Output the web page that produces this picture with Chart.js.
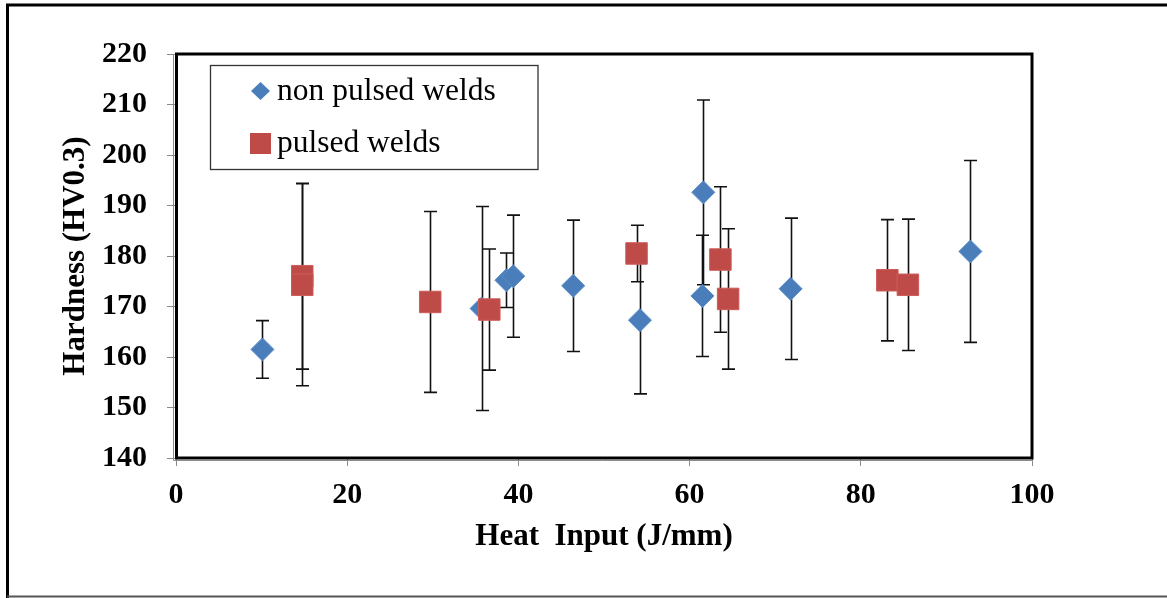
<!DOCTYPE html>
<html>
<head>
<meta charset="utf-8">
<script src="https://cdn.jsdelivr.net/npm/chart.js@4.4.0/dist/chart.umd.min.js"></script>
<style>
  html, body { margin: 0; padding: 0; background: #fff; }
  #wrap { width: 1167px; height: 598px; position: relative; }
</style>
</head>
<body>
<div id="wrap"><canvas id="chart-hardness"></canvas></div>
<script>
// values
const nonPulsedHeat = [10.1, 35.7, 38.6, 39.4, 46.4, 54.2, 61.5, 61.6, 71.8, 92.8];
const nonPulsedHard = [161.5, 169.6, 175.2, 176.0, 174.1, 167.3, 172.1, 192.6, 173.5, 180.9];
const nonPulsedErr  = [5.7, 20.2, 5.4, 12.1, 13.0, 14.6, 12.0, 18.3, 14.0, 18.0];

const pulsedHeat = [14.75, 14.75, 29.7, 36.6, 53.8, 63.6, 64.5, 83.1, 85.5];
const pulsedHard = [176.0, 174.3, 170.9, 169.4, 180.5, 179.3, 171.5, 175.2, 174.3];
const pulsedErr  = [18.4, 20.0, 17.9, 12.0, 5.6, 14.4, 13.9, 12.0, 13.0];

const xTicks = [0, 20, 40, 60, 80, 100];
const yTicks = [140, 150, 160, 170, 180, 190, 200, 210, 220];

const FONT = '"Liberation Serif", "Times New Roman", serif';
const BLUE = '#4A7EBB';
const RED = '#BE4B48';

const toPoints = (xs, ys) => xs.map((x, i) => ({ x: x, y: ys[i] }));

const errorBars = {
  id: 'errorBars',
  beforeDatasetsDraw(chart) {
    const { ctx, scales: { x, y } } = chart;
    ctx.save();
    ctx.strokeStyle = '#111';
    ctx.lineWidth = 1.6;
    chart.data.datasets.forEach(ds => {
      ds.data.forEach((p, j) => {
        const e = ds.errors[j];
        const px = Math.round(x.getPixelForValue(p.x)) + 0.5;
        const top = y.getPixelForValue(p.y + e);
        const bot = y.getPixelForValue(p.y - e);
        ctx.beginPath();
        ctx.moveTo(px, top); ctx.lineTo(px, bot);
        ctx.moveTo(px - 6.5, top); ctx.lineTo(px + 6.5, top);
        ctx.moveTo(px - 6.5, bot); ctx.lineTo(px + 6.5, bot);
        ctx.stroke();
      });
    });
    ctx.restore();
  }
};

const frameAndLegend = {
  id: 'frameAndLegend',
  beforeDraw(chart) {
    const { ctx, chartArea: a } = chart;
    ctx.save();
    // outer frame
    ctx.strokeStyle = '#000';
    ctx.lineWidth = 3;
    ctx.beginPath();
    ctx.moveTo(1167, 5); ctx.lineTo(7.5, 5); ctx.lineTo(7.5, 598);
    ctx.stroke();
    ctx.strokeStyle = '#555';
    ctx.lineWidth = 2;
    ctx.beginPath();
    ctx.moveTo(7, 596.5); ctx.lineTo(1167, 596.5);
    ctx.stroke();
    // grey axis lines
    ctx.strokeStyle = '#8c8c8c';
    ctx.lineWidth = 1;
    ctx.beginPath();
    ctx.moveTo(a.left - 2.5, a.top); ctx.lineTo(a.left - 2.5, a.bottom + 2.5);
    ctx.lineTo(a.right, a.bottom + 2.5);
    ctx.stroke();
    ctx.restore();
  },
  afterDraw(chart) {
    const { ctx, chartArea: a } = chart;
    ctx.save();
    // plot border
    ctx.strokeStyle = '#000';
    ctx.lineWidth = 3;
    ctx.strokeRect(a.left + 0.5, a.top, a.right - a.left - 0.5, a.bottom - a.top);
    // legend box
    ctx.strokeStyle = '#333';
    ctx.lineWidth = 1.3;
    ctx.fillStyle = '#fff';
    ctx.fillRect(210, 65.5, 328, 104);
    ctx.strokeRect(210.5, 65.5, 327.5, 104);
    const ds = chart.data.datasets;
    ctx.font = '31.5px ' + FONT;
    ctx.textBaseline = 'alphabetic';
    ctx.textAlign = 'left';
    // diamond marker
    ctx.fillStyle = BLUE;
    ctx.beginPath();
    ctx.moveTo(251, 91); ctx.lineTo(260.5, 82); ctx.lineTo(270, 91); ctx.lineTo(260.5, 100);
    ctx.closePath();
    ctx.fill();
    ctx.fillStyle = '#000';
    ctx.fillText(ds[0].label, 277, 100);
    // square marker
    ctx.fillStyle = RED;
    ctx.fillRect(250, 133, 21, 21);
    ctx.fillStyle = '#000';
    ctx.fillText(ds[1].label, 277, 152);
    ctx.restore();
  }
};

new Chart(document.getElementById('chart-hardness'), {
  type: 'scatter',
  data: {
    datasets: [
      {
        label: 'non pulsed welds',
        data: toPoints(nonPulsedHeat, nonPulsedHard),
        errors: nonPulsedErr,
        pointStyle: 'rectRot',
        pointRadius: 11.5,
        pointHoverRadius: 11.5,
        backgroundColor: BLUE,
        borderColor: '#5b8cc8',
        borderWidth: 1,
        order: 2,
      },
      {
        label: 'pulsed welds',
        data: toPoints(pulsedHeat, pulsedHard),
        errors: pulsedErr,
        pointStyle: 'rect',
        pointRadius: 15.2,
        pointHoverRadius: 15.2,
        backgroundColor: RED,
        borderColor: '#cc5c59',
        borderWidth: 1,
        order: 1,
      },
    ],
  },
  options: {
    responsive: true,
    maintainAspectRatio: false,
    animation: false,
    layout: { padding: { left: 0, right: 135, top: 54, bottom: 0 } },
    plugins: {
      legend: { display: false },
      tooltip: { enabled: false },
    },
    scales: {
      x: {
        type: 'linear',
        min: 0,
        max: 100,
        afterBuildTicks: s => { s.ticks = xTicks.map(v => ({ value: v })); },
        afterFit: s => {
          s.height = 140;
          s.paddingLeft = 0; s.paddingRight = 0; s.paddingTop = 0; s.paddingBottom = 0;
        },
        grid: { drawOnChartArea: false, color: '#8c8c8c', tickLength: 8 },
        border: { display: false },
        ticks: {
          color: '#000',
          padding: 11,
          font: { family: FONT, size: 30, weight: 'bold' },
        },
        title: {
          display: true,
          text: 'Heat  Input (J/mm)',
          color: '#000',
          font: { family: FONT, size: 31, weight: 'bold' },
          padding: { top: 0, bottom: 42 },
        },
      },
      y: {
        type: 'linear',
        min: 140,
        max: 220,
        afterBuildTicks: s => { s.ticks = yTicks.map(v => ({ value: v })); },
        afterFit: s => {
          s.width = 176;
          s.paddingLeft = 0; s.paddingRight = 0; s.paddingTop = 0; s.paddingBottom = 0;
        },
        grid: { drawOnChartArea: false, color: '#8c8c8c', tickLength: 9 },
        border: { display: false },
        ticks: {
          color: '#000',
          padding: 20,
          font: { family: FONT, size: 30, weight: 'bold' },
        },
        title: {
          display: true,
          text: 'Hardness (HV0.3)',
          color: '#000',
          font: { family: FONT, size: 31, weight: 'bold' },
          padding: { top: 57, bottom: 0 },
        },
      },
    },
  },
  plugins: [errorBars, frameAndLegend],
});
</script>
</body>
</html>
